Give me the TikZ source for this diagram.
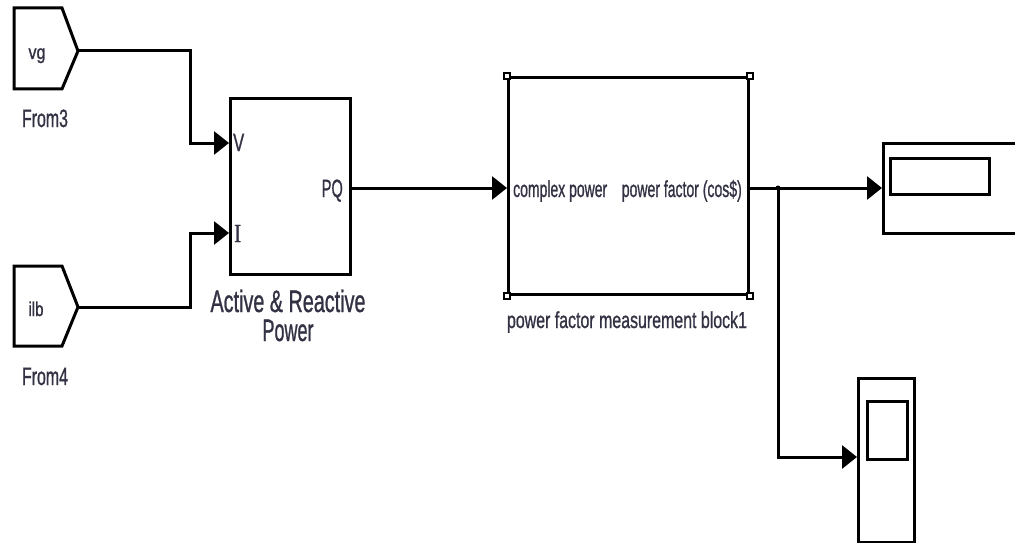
\documentclass[tikz,border=0pt]{standalone}
\usepackage{fontspec}
\setmainfont{Liberation Sans}[BoldFont=Liberation Sans, BoldFeatures={FakeBold=1.2}]
\newfontfamily\portserif{Liberation Serif}[BoldFont=Liberation Serif, BoldFeatures={FakeBold=1.2}]
\usetikzlibrary{arrows.meta}
\newcommand{\fitw}[2]{\resizebox{#1}{\height}{#2}}
\definecolor{txt}{RGB}{50,50,68}
\begin{document}
\begin{tikzpicture}[x=1pt,y=-1pt,
  blk/.style={draw, line width=3pt, fill=white, inner sep=0pt},
  thinblk/.style={draw, line width=2.6pt, fill=white, inner sep=0pt},
  wire/.style={line width=3pt},
  arr/.style={wire, -{Triangle[length=15pt,width=23pt]}},
  lbl/.style={font=\fontsize{23}{26}\selectfont\bfseries, text=txt, inner sep=0pt, anchor=base},
  frm/.style={font=\fontsize{25}{28}\selectfont\bfseries, text=txt, inner sep=0pt, anchor=base},
  big/.style={font=\fontsize{31}{34}\selectfont\bfseries, text=txt, inner sep=0pt, anchor=base},
  handle/.style={draw, line width=1.5pt, fill=white, minimum size=6pt, inner sep=0pt}
]
\useasboundingbox (0,0) rectangle (1015,543);
\clip (0,0) rectangle (1015,543);

% From blocks
\draw[blk] (14,8) -- (62,8) -- (78,51) -- (62,89) -- (14,89) -- cycle;
\coordinate (f3out) at (78,51);
\node[lbl, font=\fontsize{20}{22}\selectfont\bfseries] (vg) at (37,59) {\fitw{17pt}{vg}};
\node[frm] (from3) at (45,127) {\fitw{46pt}{From3}};

\draw[blk] (14,266) -- (62,266) -- (78,307) -- (62,346) -- (14,346) -- cycle;
\coordinate (f4out) at (78,307);
\node[lbl, font=\fontsize{20}{22}\selectfont\bfseries] (ilb) at (36,316) {\fitw{15pt}{ilb}};
\node[frm] (from4) at (45,385) {\fitw{46pt}{From4}};

% Active & Reactive Power block
\node[blk, minimum width=120pt, minimum height=176pt, anchor=north west] (ar) at (229,97) {};
\coordinate (arV) at (229,143);
\coordinate (arI) at (229,233);
\coordinate (arPQ) at (349,188);
\node[frm, anchor=base west] (vlab) at (233,151) {\fitw{11pt}{V}};
\node[frm, anchor=base west, font=\fontsize{26}{28}\portserif\bfseries] (ilab) at (234,242) {\fitw{7pt}{I}};
\node[frm, anchor=base east] (pqlab) at (343,197) {\fitw{21pt}{PQ}};
\node[big] (arname1) at (288,312) {\fitw{155pt}{Active \& Reactive}};
\node[big] (arname2) at (288,341) {\fitw{51pt}{Power}};

% Power factor measurement block
\node[blk, minimum width=240pt, minimum height=217pt, anchor=north west] (pf) at (507,76) {};
\node[handle] (h1) at (pf.north west) {};
\node[handle] (h2) at (pf.north east) {};
\node[handle] (h3) at (pf.south west) {};
\node[handle] (h4) at (pf.south east) {};
\coordinate (pfin) at (507,188);
\coordinate (pfout) at (747,188);
\node[lbl, anchor=base west] (cplab) at (513,197) {\fitw{94pt}{complex power}};
\node[lbl, anchor=base east] (pflab) at (742,197) {\fitw{120pt}{power factor (cos\$)}};
\node[lbl] (pfname) at (627,328) {\fitw{240pt}{power factor measurement block1}};

% Display block
\node[thinblk, minimum width=160pt, minimum height=90pt, anchor=north west] (disp) at (882,142) {};
\node[thinblk, minimum width=99pt, minimum height=36pt, anchor=north west] (dispin) at (889,157) {};
\coordinate (dispport) at (882,188);

% Scope block
\node[thinblk, minimum width=56pt, minimum height=164pt, anchor=north west] (scope) at (857,377) {};
\node[thinblk, minimum width=40pt, minimum height=58pt, anchor=north west] (scopein) at (866,400) {};
\coordinate (scopeport) at (857,457);

% Connectors
\coordinate (b1) at (190,100);
\coordinate (b2) at (190,270);
\draw[arr] (f3out) -| (b1) |- (arV);
\draw[arr] (f4out) -| (b2) |- (arI);
\draw[arr] (arPQ) -- (pfin);
\coordinate (j) at (778,188);
\draw[arr] (pfout) -- (dispport);
\draw[arr] (j) |- (scopeport);
\fill (j) circle (2.5pt);
\end{tikzpicture}
\end{document}
